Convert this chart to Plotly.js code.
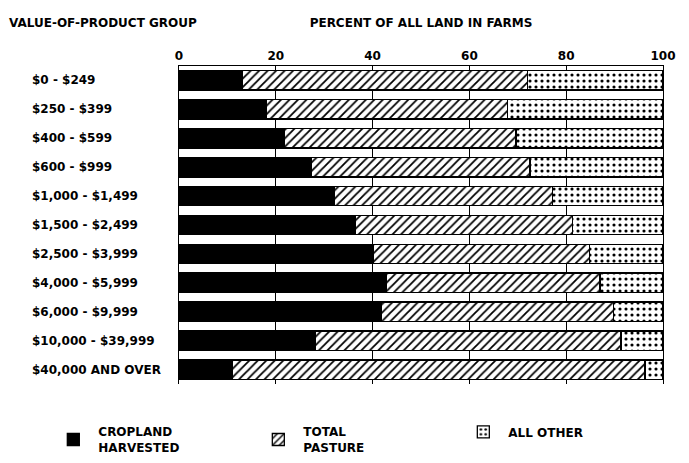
<!DOCTYPE html>
<html>
<head>
<meta charset="utf-8">
<script src="https://cdn.plot.ly/plotly-3.0.1.min.js"></script>
<style>html,body{margin:0;padding:0;background:#fff;}#chart{width:689px;height:463px;}</style>
</head>
<body>
<div id="chart"></div>
<script>
const categories = ["$0 - $249", "$250 - $399", "$400 - $599", "$600 - $999", "$1,000 - $1,499", "$1,500 - $2,499", "$2,500 - $3,999", "$4,000 - $5,999", "$6,000 - $9,999", "$10,000 - $39,999", "$40,000 AND OVER"];
const cropland = [13.1, 18.1, 21.8, 27.3, 32.1, 36.4, 40.2, 42.8, 41.9, 28.1, 11.1];
const pasture  = [58.9, 49.8, 47.8, 45.2, 45.0, 44.9, 44.6, 44.2, 47.8, 63.2, 85.2];
const allOther = [28.0, 32.1, 30.4, 27.5, 22.9, 18.7, 15.2, 13.0, 10.3, 8.7, 3.7];
const tickVals = [0, 20, 40, 60, 80, 100];
const seriesNames = ["CROPLAND<br>HARVESTED", "TOTAL<br>PASTURE", "ALL OTHER"];
const groupTitle = "VALUE-OF-PRODUCT GROUP";
const axisTitle = "PERCENT OF ALL LAND IN FARMS";

const FONT = "DejaVu Sans, sans-serif";
const line = {color: "#000", width: 1.3};
const f = (s) => ({family: FONT, size: s, color: "#000", weight: "bold"});

const traces = [
  {type: "bar", orientation: "h", name: seriesNames[0], y: categories, x: cropland,
   marker: {color: "#000", line: line}},
  {type: "bar", orientation: "h", name: seriesNames[1], y: categories, x: pasture,
   marker: {color: "#fff", line: line, pattern: {shape: "/", fgcolor: "#000", bgcolor: "#fff", size: 6, solidity: 0.3}}},
  {type: "bar", orientation: "h", name: seriesNames[2], y: categories, x: allOther,
   marker: {color: "#fff", line: line, pattern: {shape: ".", fgcolor: "#000", bgcolor: "#fff", size: 6, solidity: 0.22}}}
];

const annotations = categories.map(c => ({
  text: c, xref: "paper", yref: "y", x: -0.308, y: c, xanchor: "left", yanchor: "middle",
  showarrow: false, font: f(12)
}));
annotations.push({
  text: groupTitle, xref: "paper", yref: "paper", x: -0.355, y: 1.135, xanchor: "left", yanchor: "middle",
  showarrow: false, font: f(12)
});

const layout = {
  width: 689, height: 463,
  margin: {l: 179, r: 26, t: 66, b: 79, autoexpand: false},
  paper_bgcolor: "#fff", plot_bgcolor: "#fff",
  barmode: "stack", bargap: 0.33,
  font: f(12),
  xaxis: {
    side: "top", range: [0, 100], tickvals: tickVals, ticktext: tickVals.map(String),
    showgrid: true, gridcolor: "#000", gridwidth: 1, zeroline: false,
    showline: true, linecolor: "#000", linewidth: 1.3, ticks: "", ticklen: 0,
    tickfont: f(12),
    title: {text: axisTitle, font: f(12), standoff: 18}
  },
  yaxis: {
    autorange: "reversed", showticklabels: false, ticks: "", showgrid: false, zeroline: false,
    showline: true, mirror: true, linecolor: "#000", linewidth: 1.3
  },
  showlegend: true,
  legend: {
    orientation: "h", x: -0.27, xanchor: "left", y: -0.105, yanchor: "top",
    entrywidth: 150, entrywidthmode: "pixels", itemwidth: 40, traceorder: "normal",
    valign: "middle",
    font: f(12)
  },
  annotations: annotations
};

Plotly.newPlot("chart", traces, layout, {displayModeBar: false, staticPlot: true});
</script>
</body>
</html>
